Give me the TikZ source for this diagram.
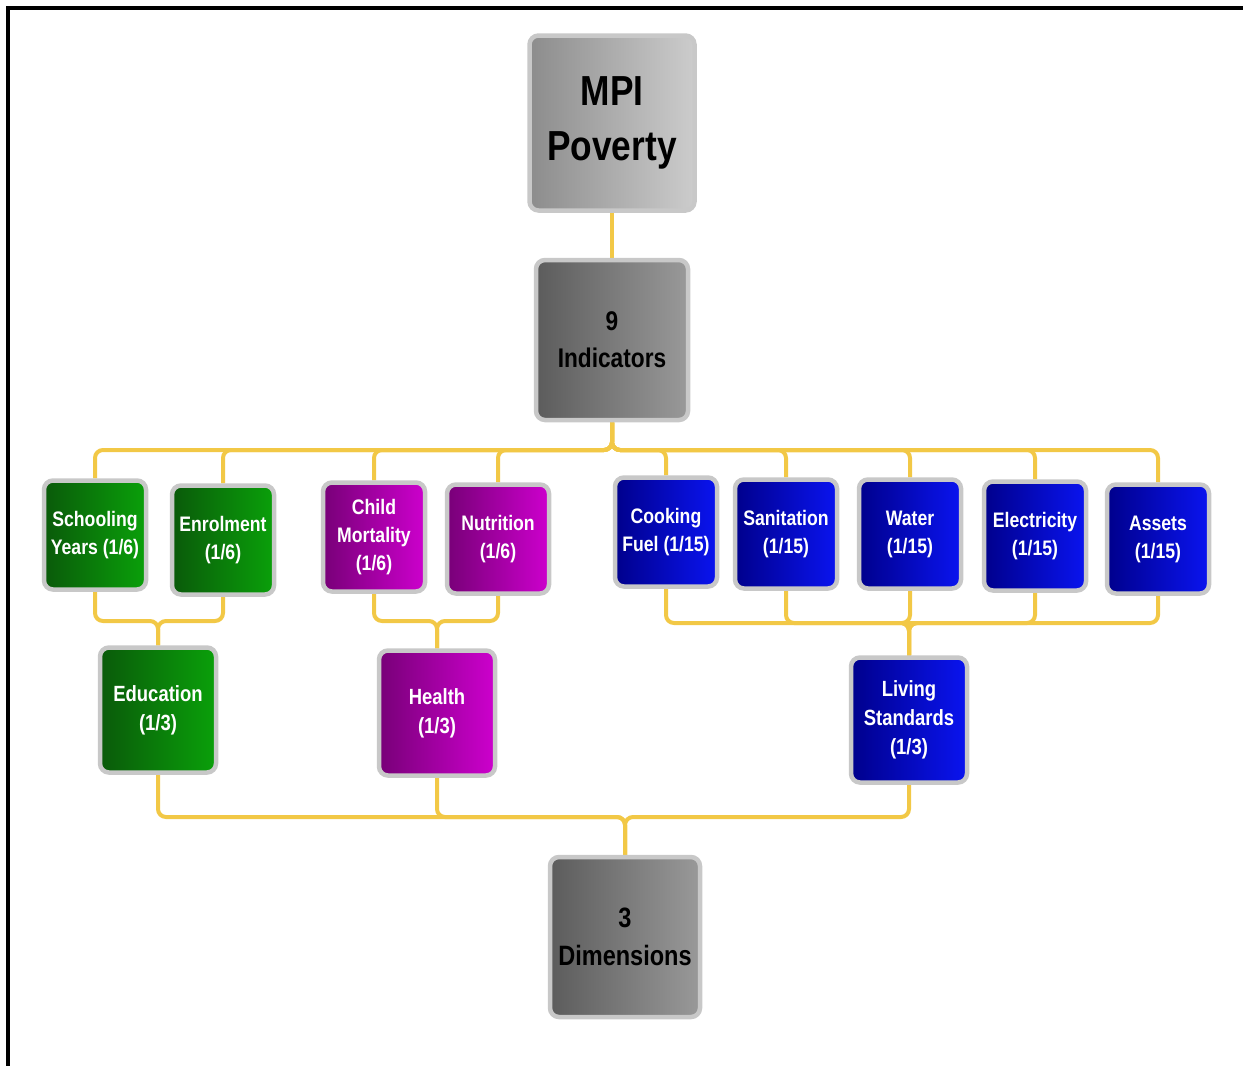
\documentclass[tikz,border=0pt]{standalone}
\usepackage{fontspec}
\setmainfont{Liberation Sans}
\newfontfamily\narrowfont[FakeStretch=0.84]{Liberation Sans}
\usetikzlibrary{backgrounds}

\definecolor{rimgray}{RGB}{200,200,200}
\definecolor{linkgold}{RGB}{242,200,70}
\definecolor{darkgreen}{RGB}{10,90,10}
\definecolor{lightgreen}{RGB}{10,160,10}
\definecolor{darkpurple}{RGB}{120,0,120}
\definecolor{lightpurple}{RGB}{205,0,205}
\definecolor{darkblue}{RGB}{0,0,140}
\definecolor{lightblue}{RGB}{10,20,240}

\tikzset{
  box/.style={rounded corners=9pt, draw=rimgray, line width=4.5pt, align=center,
    inner sep=2pt, font=\narrowfont\bfseries},
  indbox/.style={box, minimum width=102pt, minimum height=109pt,
    font=\narrowfont\bfseries\fontsize{21}{28}\selectfont},
  dimbox/.style={box, minimum width=116pt, minimum height=125pt,
    font=\narrowfont\bfseries\fontsize{22}{29}\selectfont},
  greenbox/.style={left color=darkgreen, right color=lightgreen, text=white},
  purplebox/.style={left color=darkpurple, right color=lightpurple, text=white},
  bluebox/.style={left color=darkblue, right color=lightblue, text=white},
  graybox/.style={left color=black!64, right color=black!40, text=black},
  link/.style={draw=linkgold, line width=4pt, rounded corners=8pt}
}

\begin{document}
\begin{tikzpicture}[x=1pt, y=-1pt]
  \useasboundingbox (0,0) rectangle (1243,1066);
  \draw[line width=4pt] (1243,8) -- (8,8) -- (8,1066);

  % top of the tree
  \node[box, left color=black!45, right color=black!20, minimum width=165pt, minimum height=175pt,
    font=\narrowfont\bfseries\fontsize{42}{55}\selectfont] (mpi) at (612,123) {MPI\\Poverty};
  \node[box, graybox, minimum width=152pt, minimum height=160pt,
    font=\narrowfont\bfseries\fontsize{27}{37}\selectfont] (ind) at (612,340) {9\\Indicators};

  % indicators
  \node[indbox, greenbox] (school) at (95,535) {Schooling\\Years (1/6)};
  \node[indbox, greenbox] (enrol) at (223,540) {Enrolment\\(1/6)};
  \node[indbox, purplebox] (child) at (374,537) {Child\\Mortality\\(1/6)};
  \node[indbox, purplebox] (nutri) at (498,539) {Nutrition\\(1/6)};
  \node[indbox, bluebox] (cook) at (666,532) {Cooking\\Fuel (1/15)};
  \node[indbox, bluebox] (sanit) at (786,534) {Sanitation\\(1/15)};
  \node[indbox, bluebox] (water) at (910,534) {Water\\(1/15)};
  \node[indbox, bluebox] (elec) at (1035,536) {Electricity\\(1/15)};
  \node[indbox, bluebox] (assets) at (1158,539) {Assets\\(1/15)};

  % dimensions
  \node[dimbox, greenbox] (edu) at (158,710) {Education\\(1/3)};
  \node[dimbox, purplebox] (health) at (437,713) {Health\\(1/3)};
  \node[dimbox, bluebox] (living) at (909,720) {Living\\Standards\\(1/3)};

  \node[box, graybox, minimum width=150pt, minimum height=160pt,
    font=\narrowfont\bfseries\fontsize{28}{38}\selectfont] (dims) at (625,937) {3\\Dimensions};

  \coordinate (topbus) at (612,450);
  \coordinate (edubus) at (158,621);
  \coordinate (healthbus) at (437,621);
  \coordinate (livbus) at (909,623);
  \coordinate (dimbus) at (625,817);

  \begin{scope}[on background layer]
    \draw[link] (mpi.south) -- (ind.north);
    \foreach \n in {school,enrol,child,nutri,cook,sanit,water,elec,assets}
      \draw[link] (ind.south) -- (topbus) -| (\n.north);
    \foreach \n in {school,enrol}
      \draw[link] (\n.south) |- (edubus) -- (edu.north);
    \foreach \n in {child,nutri}
      \draw[link] (\n.south) |- (healthbus) -- (health.north);
    \foreach \n in {cook,sanit,water,elec,assets}
      \draw[link] (\n.south) |- (livbus) -- (living.north);
    \foreach \n in {edu,health,living}
      \draw[link] (\n.south) |- (dimbus) -- (dims.north);
  \end{scope}
\end{tikzpicture}
\end{document}
